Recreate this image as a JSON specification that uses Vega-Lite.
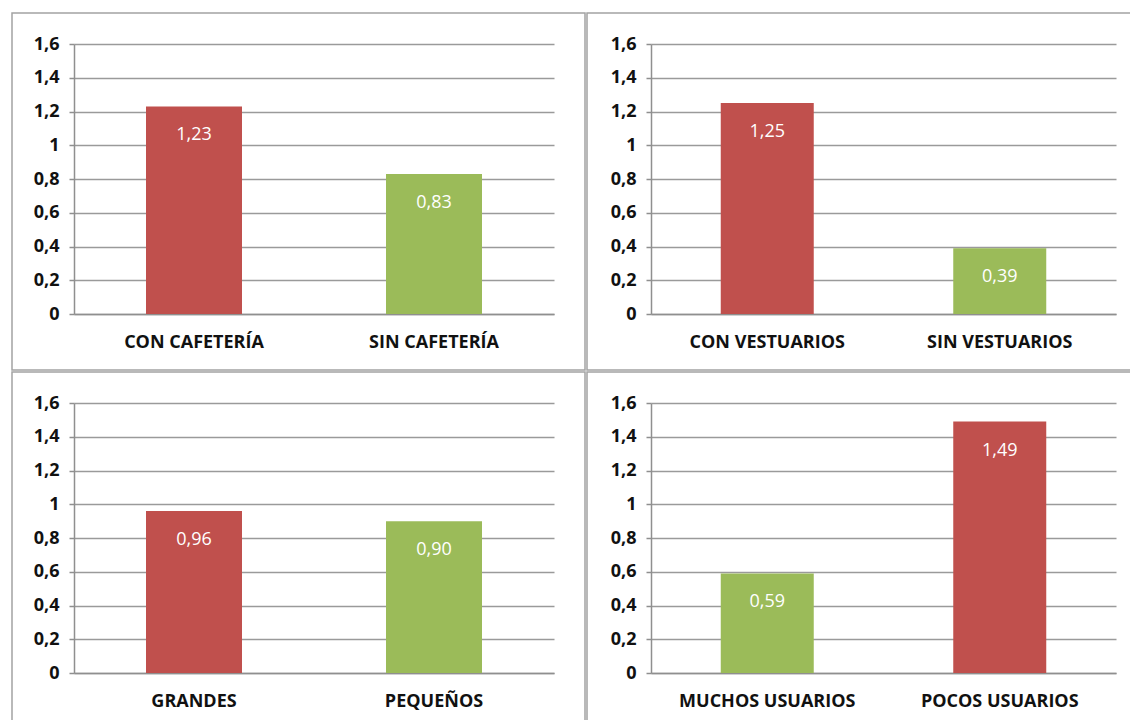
{
  "$schema": "https://vega.github.io/schema/vega-lite/v6.json",
  "padding": {"left": 11, "top": 12, "right": 0, "bottom": 0},
  "background": "white",
  "data": {
    "values": [
      {"panel": 1, "categoria": "CON CAFETERÍA", "valor": 1.23, "nivel": "mayor"},
      {"panel": 1, "categoria": "SIN CAFETERÍA", "valor": 0.83, "nivel": "menor"},
      {"panel": 2, "categoria": "CON VESTUARIOS", "valor": 1.25, "nivel": "mayor"},
      {"panel": 2, "categoria": "SIN VESTUARIOS", "valor": 0.39, "nivel": "menor"},
      {"panel": 3, "categoria": "GRANDES", "valor": 0.96, "nivel": "mayor"},
      {"panel": 3, "categoria": "PEQUEÑOS", "valor": 0.90, "nivel": "menor"},
      {"panel": 4, "categoria": "MUCHOS USUARIOS", "valor": 0.59, "nivel": "menor"},
      {"panel": 4, "categoria": "POCOS USUARIOS", "valor": 1.49, "nivel": "mayor"}
    ]
  },
  "spacing": 0,
  "vconcat": [
    {
      "spacing": 0,
      "hconcat": [
        {
          "width": 573, "height": 357,
          "transform": [{"filter": "datum.panel == 1"}],
          "encoding": {
            "x": {"field": "categoria", "type": "nominal", "sort": null,
                  "scale": {"range": [62, 542], "paddingInner": 0.6, "paddingOuter": 0.3},
                  "axis": {"title": null, "offset": -56, "labelPadding": 28}},
            "y": {"field": "valor", "type": "quantitative",
                  "scale": {"domain": [0, 1.6], "range": [301, 31], "nice": false},
                  "axis": {"title": null, "offset": -62, "values": [0, 0.2, 0.4, 0.6, 0.8, 1, 1.2, 1.4, 1.6], "format": "~g"}}
          },
          "layer": [
            {"mark": {"type": "bar"}, "encoding": {"color": {"field": "nivel", "type": "nominal", "legend": null}}},
            {"mark": {"type": "text", "dy": 29, "color": "white", "font": "Open Sans", "fontSize": 18, "baseline": "middle"},
             "encoding": {"text": {"field": "valor", "type": "quantitative", "format": ".2f"}}}
          ]
        },
        {
          "width": 546, "height": 357,
          "transform": [{"filter": "datum.panel == 2"}],
          "encoding": {
            "x": {"field": "categoria", "type": "nominal", "sort": null,
                  "scale": {"range": [64, 529], "paddingInner": 0.6, "paddingOuter": 0.3},
                  "axis": {"title": null, "offset": -56, "labelPadding": 28}},
            "y": {"field": "valor", "type": "quantitative",
                  "scale": {"domain": [0, 1.6], "range": [301, 31], "nice": false},
                  "axis": {"title": null, "offset": -64, "values": [0, 0.2, 0.4, 0.6, 0.8, 1, 1.2, 1.4, 1.6], "format": "~g"}}
          },
          "layer": [
            {"mark": {"type": "bar"}, "encoding": {"color": {"field": "nivel", "type": "nominal", "legend": null}}},
            {"mark": {"type": "text", "dy": 29, "color": "white", "font": "Open Sans", "fontSize": 18, "baseline": "middle"},
             "encoding": {"text": {"field": "valor", "type": "quantitative", "format": ".2f"}}}
          ]
        }
      ]
    },
    {
      "spacing": 0,
      "hconcat": [
        {
          "width": 573, "height": 351,
          "transform": [{"filter": "datum.panel == 3"}],
          "encoding": {
            "x": {"field": "categoria", "type": "nominal", "sort": null,
                  "scale": {"range": [62, 542], "paddingInner": 0.6, "paddingOuter": 0.3},
                  "axis": {"title": null, "offset": -50, "labelPadding": 28}},
            "y": {"field": "valor", "type": "quantitative",
                  "scale": {"domain": [0, 1.6], "range": [301, 31], "nice": false},
                  "axis": {"title": null, "offset": -62, "values": [0, 0.2, 0.4, 0.6, 0.8, 1, 1.2, 1.4, 1.6], "format": "~g"}}
          },
          "layer": [
            {"mark": {"type": "bar"}, "encoding": {"color": {"field": "nivel", "type": "nominal", "legend": null}}},
            {"mark": {"type": "text", "dy": 29, "color": "white", "font": "Open Sans", "fontSize": 18, "baseline": "middle"},
             "encoding": {"text": {"field": "valor", "type": "quantitative", "format": ".2f"}}}
          ]
        },
        {
          "width": 546, "height": 351,
          "transform": [{"filter": "datum.panel == 4"}],
          "encoding": {
            "x": {"field": "categoria", "type": "nominal", "sort": null,
                  "scale": {"range": [64, 529], "paddingInner": 0.6, "paddingOuter": 0.3},
                  "axis": {"title": null, "offset": -50, "labelPadding": 28}},
            "y": {"field": "valor", "type": "quantitative",
                  "scale": {"domain": [0, 1.6], "range": [301, 31], "nice": false},
                  "axis": {"title": null, "offset": -64, "values": [0, 0.2, 0.4, 0.6, 0.8, 1, 1.2, 1.4, 1.6], "format": "~g"}}
          },
          "layer": [
            {"mark": {"type": "bar"}, "encoding": {"color": {"field": "nivel", "type": "nominal", "legend": null}}},
            {"mark": {"type": "text", "dy": 29, "color": "white", "font": "Open Sans", "fontSize": 18, "baseline": "middle"},
             "encoding": {"text": {"field": "valor", "type": "quantitative", "format": ".2f"}}}
          ]
        }
      ]
    }
  ],
  "resolve": {"scale": {"color": "shared"}},
  "config": {
    "locale": {"number": {"decimal": ",", "thousands": ".", "grouping": [3], "currency": ["", " €"]}},
    "view": {"stroke": "#a3a3a3", "strokeWidth": 1.5},
    "range": {"category": ["#C0504D", "#9BBB59"]},
    "axisX": {"grid": false, "ticks": false, "domainColor": "#8f8f8f", "domainWidth": 1.5,
              "labelFont": "Open Sans", "labelFontWeight": "bold", "labelFontSize": 18, "labelColor": "#111111",
              "labelAngle": 0, "labelBaseline": "middle"},
    "axisY": {"grid": true, "gridColor": "#9a9a9a", "gridWidth": 1.5, "domainColor": "#8f8f8f", "domainWidth": 1.5,
              "tickColor": "#8f8f8f", "tickSize": 5, "tickWidth": 1.5, "labelPadding": 10,
              "labelFont": "Open Sans", "labelFontWeight": "bold", "labelFontSize": 18, "labelColor": "#111111"}
  }
}
